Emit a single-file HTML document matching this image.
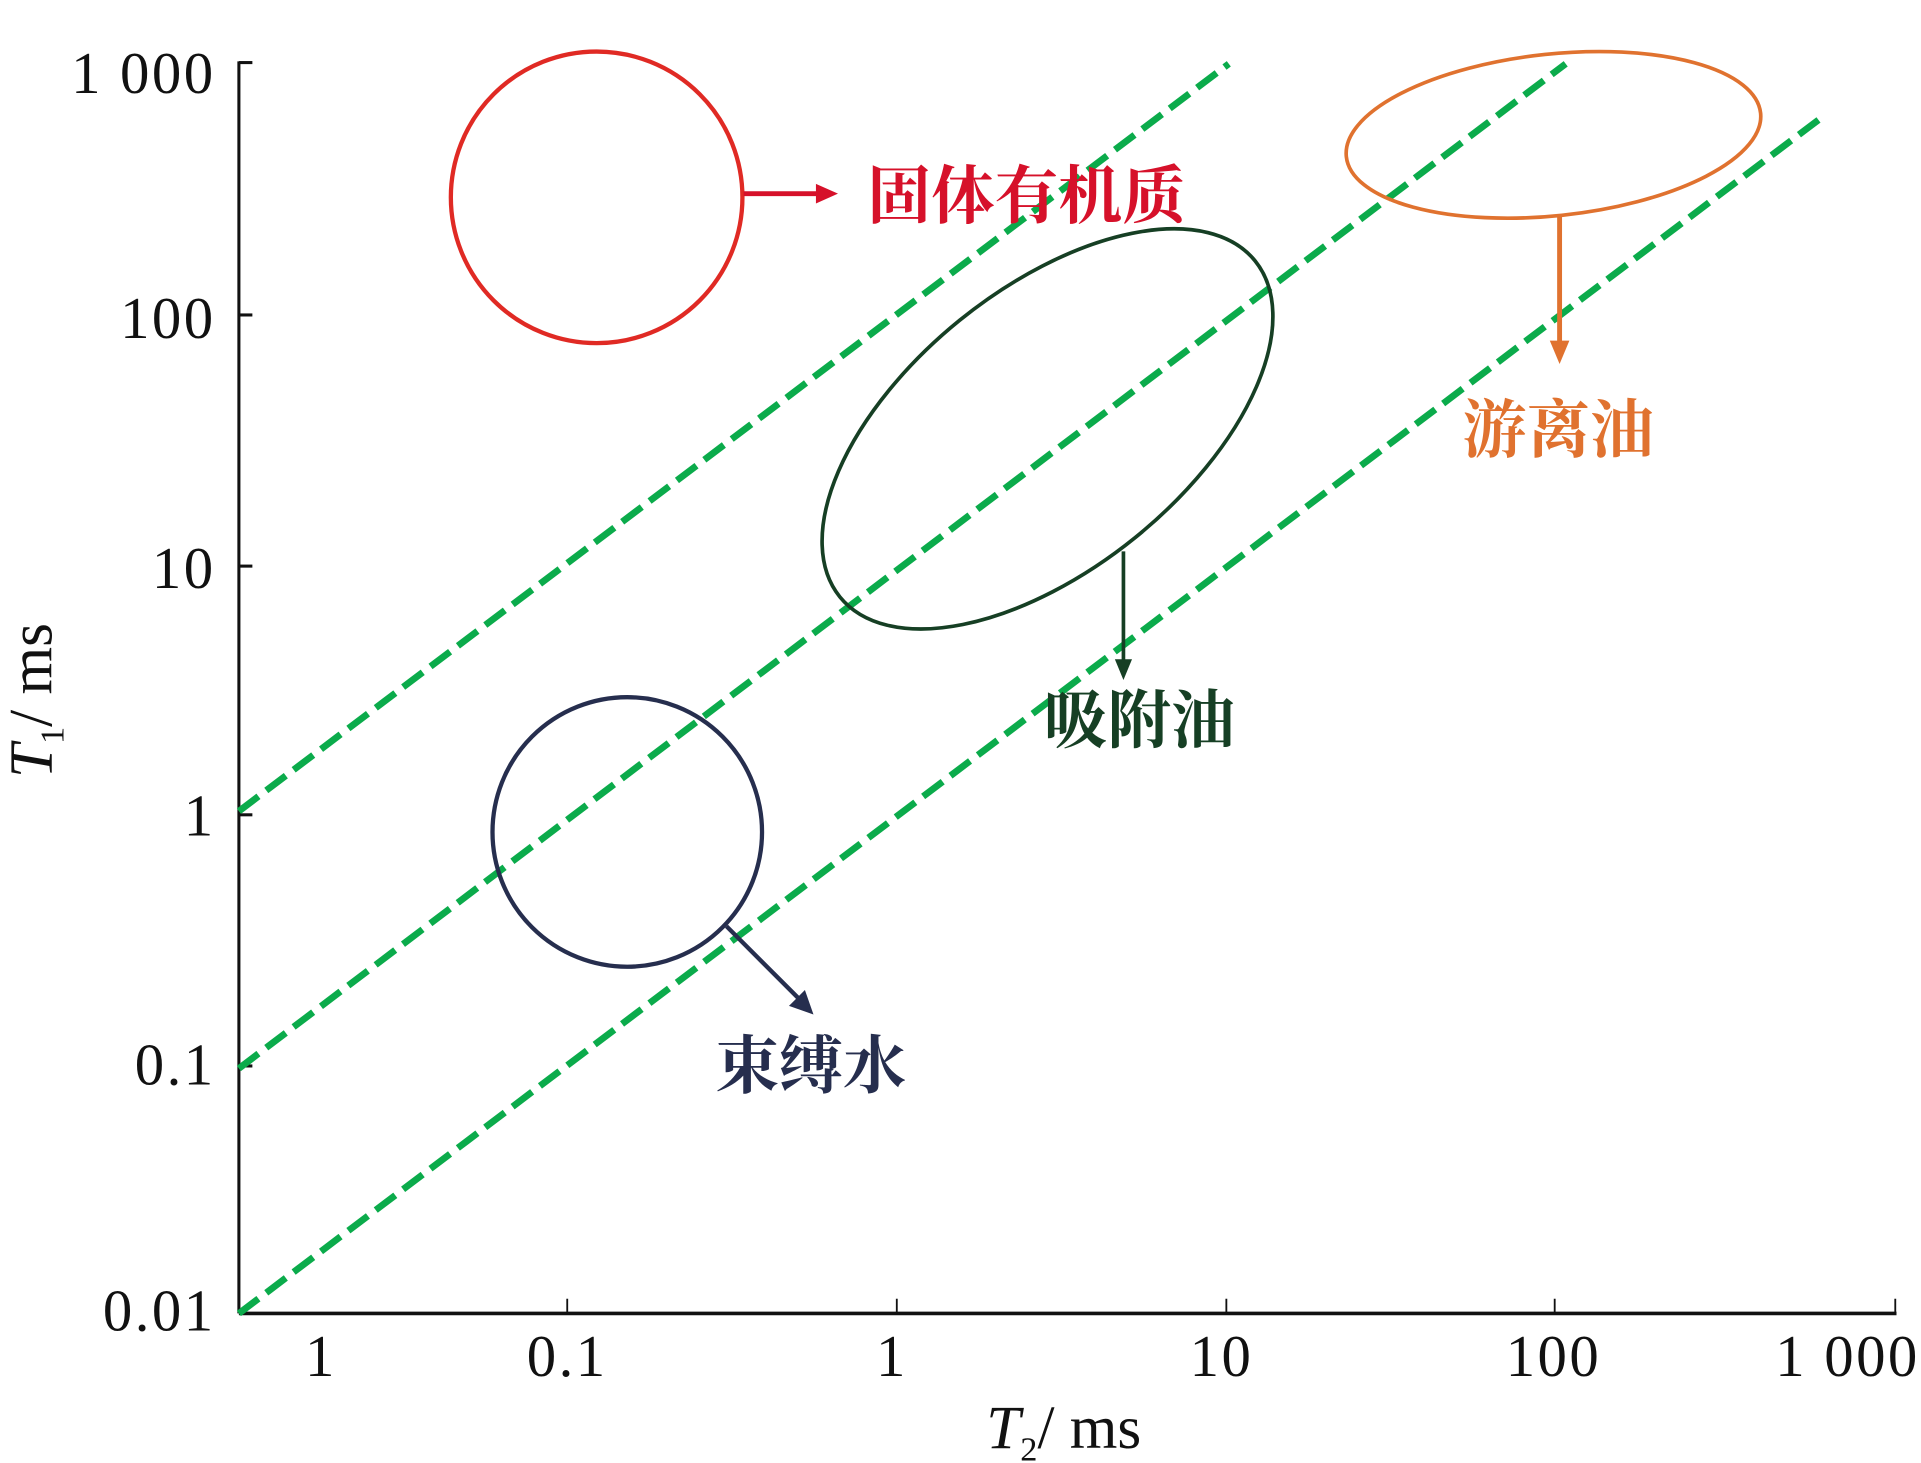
<!DOCTYPE html>
<html><head><meta charset="utf-8"><style>html,body{margin:0;padding:0;background:#fff}svg{display:block}</style></head>
<body>
<svg width="1921" height="1463" viewBox="0 0 1568 1194" xmlns="http://www.w3.org/2000/svg">
<g font-family="'Liberation Serif', serif" font-size="48" fill="#111">
<line x1="195" y1="50" x2="195" y2="1072" stroke="#111" stroke-width="2.5"/>
<line x1="195" y1="1072" x2="1548" y2="1072" stroke="#111" stroke-width="3"/>
<g stroke="#111" stroke-width="2.5">
<line x1="195" y1="51" x2="206" y2="51"/>
<line x1="195" y1="257" x2="206" y2="257"/>
<line x1="195" y1="462" x2="206" y2="462"/>
<line x1="195" y1="665" x2="206" y2="665"/>
<line x1="195" y1="870" x2="206" y2="870"/>
</g>
<g stroke="#111" stroke-width="1.5">
<line x1="463" y1="1060" x2="463" y2="1072"/>
<line x1="732" y1="1060" x2="732" y2="1072"/>
<line x1="1001" y1="1060" x2="1001" y2="1072"/>
<line x1="1269" y1="1060" x2="1269" y2="1072"/>
<line x1="1547" y1="1060" x2="1547" y2="1072"/>
</g>
<g text-anchor="end" letter-spacing="2">
<text x="176" y="76">1 000</text>
<text x="176" y="276">100</text>
<text x="176" y="480">10</text>
<text x="176" y="682">1</text>
<text x="176" y="885">0.1</text>
<text x="176" y="1086">0.01</text>
</g>
<g text-anchor="middle" letter-spacing="2">
<text x="262" y="1123">1</text>
<text x="463" y="1123">0.1</text>
<text x="728" y="1123">1</text>
<text x="997" y="1123">10</text>
<text x="1268" y="1123">100</text>
<text x="1508" y="1123">1 000</text>
</g>
<text x="805" y="1182" font-size="50"><tspan font-style="italic">T</tspan><tspan font-size="28" dy="10">2</tspan><tspan dy="-10">/ ms</tspan></text>
<text transform="translate(42,635) rotate(-90)" font-size="50"><tspan font-style="italic">T</tspan><tspan font-size="28" dy="10">1</tspan><tspan dy="-10">/ ms</tspan></text>
</g>
<g stroke="#0bab4b" stroke-width="5.5" stroke-dasharray="20,8" fill="none">
<line x1="195" y1="662" x2="1003" y2="52"/>
<line x1="195" y1="872" x2="1278" y2="52"/>
<line x1="195" y1="1072" x2="1488" y2="95"/>
</g>
<ellipse cx="487" cy="161" rx="119" ry="119" fill="none" stroke="#e02a24" stroke-width="3.5"/>
<line x1="607" y1="158" x2="668" y2="158" stroke="#d6112a" stroke-width="4"/>
<path d="M666,150 L684,158 L666,166 z" fill="#d6112a"/>
<text x="708" y="178" font-family="'Noto Serif CJK SC',serif" font-weight="bold" font-size="52" fill="#d6112a">固体有机质</text>
<ellipse cx="855" cy="350" rx="218" ry="114" transform="rotate(-39 855 350)" fill="none" stroke="#163f24" stroke-width="3"/>
<line x1="917" y1="450" x2="917" y2="540" stroke="#163f24" stroke-width="3"/>
<path d="M910,538 L917,555 L924,538 z" fill="#163f24"/>
<text x="852" y="606" font-family="'Noto Serif CJK SC',serif" font-weight="bold" font-size="52" fill="#163f24">吸附油</text>
<ellipse cx="1268" cy="110" rx="170" ry="66" transform="rotate(-6 1268 110)" fill="none" stroke="#e0722f" stroke-width="3"/>
<line x1="1273" y1="177" x2="1273" y2="280" stroke="#e0722f" stroke-width="4"/>
<path d="M1265,278 L1273,297 L1281,278 z" fill="#e0722f"/>
<text x="1194" y="369" font-family="'Noto Serif CJK SC',serif" font-weight="bold" font-size="52" fill="#e0722f">游离油</text>
<circle cx="512" cy="679" r="110" fill="none" stroke="#262e4e" stroke-width="3.5"/>
<line x1="593" y1="756" x2="652" y2="815" stroke="#262e4e" stroke-width="3.5"/>
<path d="M644,821 L664,828 L657,808 z" fill="#262e4e"/>
<text x="584" y="888" font-family="'Noto Serif CJK SC',serif" font-weight="bold" font-size="52" fill="#262e4e">束缚水</text>
</svg>
</body></html>
